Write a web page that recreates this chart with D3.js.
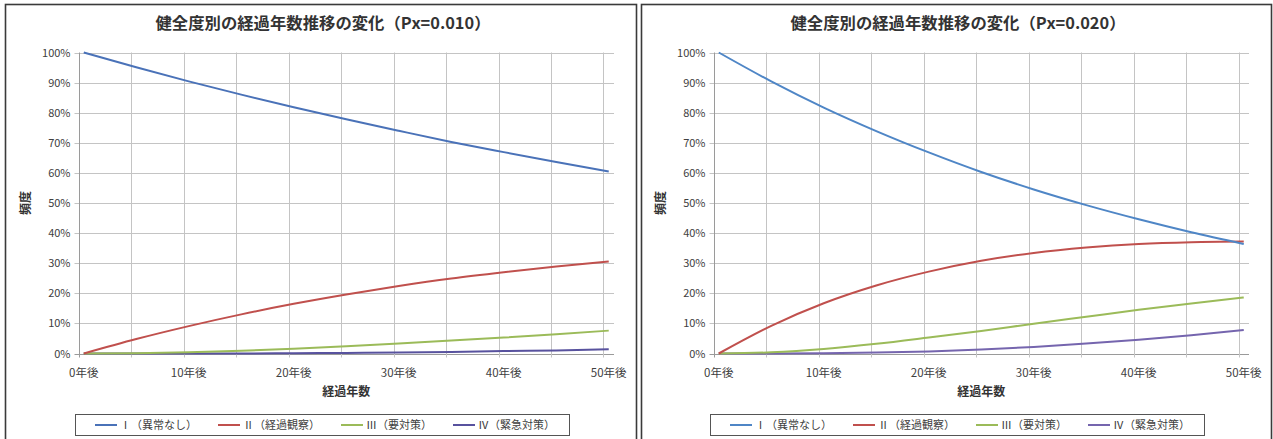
<!DOCTYPE html>
<html>
<head>
<meta charset="utf-8">
<script src="https://cdn.jsdelivr.net/npm/d3@7"></script>
<style>
  html, body { margin: 0; padding: 0; background: #ffffff; }
  svg { display: block; }
  text { font-family: "Noto Sans CJK JP", "Noto Sans", sans-serif; }
</style>
</head>
<body>
<svg id="chart" width="1273" height="439"></svg>
<script>
// ---------------- data ----------------
const years = [0, 5, 10, 15, 20, 25, 30, 35, 40, 45, 50];
const gridYears = [0, 5, 10, 15, 20, 25, 30, 35, 40, 45, 50];
const xTickYears = [0, 10, 20, 30, 40, 50];
const xTickLabels = ["0年後", "10年後", "20年後", "30年後", "40年後", "50年後"];
const yTickValues = [0, 0.1, 0.2, 0.3, 0.4, 0.5, 0.6, 0.7, 0.8, 0.9, 1.0];
const seriesNames = ["Ⅰ（異常なし）", "Ⅱ（経過観察）", "Ⅲ（要対策）", "Ⅳ（緊急対策）"];
const chartTitles = ["健全度別の経過年数推移の変化（Px=0.010）", "健全度別の経過年数推移の変化（Px=0.020）"];
const xAxisTitle = "経過年数";
const yAxisTitle = "頻度";

// Px = 0.010
const px010_I   = [1.000, 0.951, 0.904, 0.860, 0.818, 0.778, 0.740, 0.703, 0.669, 0.636, 0.605];
const px010_II  = [0.000, 0.048, 0.091, 0.130, 0.165, 0.196, 0.224, 0.249, 0.270, 0.289, 0.306];
const px010_III = [0.000, 0.001, 0.004, 0.009, 0.016, 0.024, 0.033, 0.043, 0.053, 0.064, 0.076];
const px010_IV  = [0.000, 0.000, 0.000, 0.000, 0.001, 0.002, 0.003, 0.005, 0.008, 0.010, 0.014];

// Px = 0.020
const px020_I   = [1.000, 0.904, 0.817, 0.739, 0.668, 0.603, 0.545, 0.493, 0.446, 0.403, 0.364];
const px020_II  = [0.000, 0.092, 0.167, 0.226, 0.272, 0.308, 0.334, 0.352, 0.364, 0.370, 0.372];
const px020_III = [0.000, 0.004, 0.015, 0.032, 0.053, 0.075, 0.099, 0.122, 0.145, 0.166, 0.186];
const px020_IV  = [0.000, 0.000, 0.001, 0.003, 0.007, 0.013, 0.022, 0.033, 0.046, 0.061, 0.078];

// ---------------- layout / style ----------------
const panels = [
  { dx: 0,   frame: [5, 636],   title: chartTitles[0],
    series: [px010_I, px010_II, px010_III, px010_IV],
    colors: ["#4a72b8", "#c0504d", "#9bbb59", "#58529e"] },
  { dx: 635, frame: [641, 1271], title: chartTitles[1],
    series: [px020_I, px020_II, px020_III, px020_IV],
    colors: ["#4f86c6", "#c0504d", "#9bbb59", "#7565ae"] }
];

const svg = d3.select("#chart");

panels.forEach(p => {
  const g = svg.append("g");
  const dx = p.dx;

  // frame
  g.append("rect")
    .attr("x", p.frame[0] + 0.5).attr("y", 4.5)
    .attr("width", p.frame[1] - p.frame[0]).attr("height", 460)
    .attr("fill", "#ffffff").attr("stroke", "#3a3a3a").attr("stroke-width", 1.6);

  const x = d3.scaleLinear().domain([-0.5, 50.5]).range([78.5 + dx, 614 + dx]);
  const y = d3.scaleLinear().domain([0, 1]).range([353.5, 52.5]);
  const plotL = x(-0.5), plotR = x(50.5);

  // horizontal gridlines
  g.append("g").selectAll("line").data(yTickValues).join("line")
    .attr("x1", plotL - 4).attr("x2", plotR)
    .attr("y1", d => Math.round(y(d)) + 0.5).attr("y2", d => Math.round(y(d)) + 0.5)
    .attr("stroke", d => d === 0 ? "#9a9a9a" : "#c4c4c4").attr("stroke-width", 1);

  // vertical gridlines (category boundaries)
  g.append("g").selectAll("line").data(gridYears).join("line")
    .attr("x1", d => Math.round(x(d - 0.5)) + 0.5).attr("x2", d => Math.round(x(d - 0.5)) + 0.5)
    .attr("y1", y(1)).attr("y2", y(0) + 4)
    .attr("stroke", d => d === 0 ? "#9a9a9a" : "#c4c4c4").attr("stroke-width", 1);

  // y tick labels
  g.append("g").selectAll("text").data(yTickValues).join("text")
    .attr("x", plotL - 8).attr("y", d => y(d) + 4)
    .attr("text-anchor", "end").attr("font-size", 11).attr("fill", "#404040")
    .text(d => d3.format(".0%")(d));

  // x tick labels
  g.append("g").selectAll("text").data(xTickYears).join("text")
    .attr("x", d => x(d)).attr("y", 377)
    .attr("text-anchor", "middle").attr("font-size", 11.5).attr("fill", "#404040")
    .text((d, i) => xTickLabels[i]);

  // axis titles
  g.append("text")
    .attr("x", (plotL + plotR) / 2).attr("y", 396)
    .attr("text-anchor", "middle").attr("font-size", 12).attr("font-weight", "bold").attr("fill", "#333")
    .text(xAxisTitle);
  g.append("text")
    .attr("transform", `translate(${30 + dx},${203}) rotate(-90)`)
    .attr("text-anchor", "middle").attr("font-size", 12).attr("font-weight", "bold").attr("fill", "#333")
    .text(yAxisTitle);

  // chart title
  g.append("text")
    .attr("x", 323 + dx).attr("y", 29)
    .attr("text-anchor", "middle").attr("font-size", 16).attr("font-weight", "bold").attr("fill", "#333")
    .attr("textLength", 335).attr("lengthAdjust", "spacingAndGlyphs")
    .text(p.title);

  // lines
  const line = d3.line()
    .x((d, i) => x(years[i]))
    .y(d => y(d))
    .curve(d3.curveMonotoneX);
  p.series.slice().reverse().forEach((s, ri) => {
    const idx = p.series.length - 1 - ri;
    g.append("path").datum(s)
      .attr("d", line)
      .attr("fill", "none")
      .attr("stroke", p.colors[idx])
      .attr("stroke-width", 2)
      .attr("stroke-linejoin", "round");
  });

  // legend
  const lg = g.append("g");
  const items = lg.selectAll("g").data(seriesNames).join("g");
  items.append("line").attr("x1", 0).attr("x2", 22).attr("y1", 0).attr("y2", 0)
    .attr("stroke", (d, i) => p.colors[i]).attr("stroke-width", 2);
  items.append("text").attr("x", 25).attr("y", 4)
    .attr("font-size", 11).attr("fill", "#404040").text(d => d);
  let cx = 0;
  items.each(function () {
    const w = d3.select(this).select("text").node().getComputedTextLength();
    d3.select(this).attr("transform", `translate(${cx},0)`);
    cx += 25 + w + 21;
  });
  const totalW = cx - 21;
  const boxW = totalW + 34;
  const boxL = 322 + dx - boxW / 2;
  lg.attr("transform", `translate(${boxL + 20},425)`);
  lg.insert("rect", ":first-child")
    .attr("x", -20 + 0.5).attr("y", -10.5)
    .attr("width", boxW).attr("height", 21)
    .attr("fill", "#ffffff").attr("stroke", "#555").attr("stroke-width", 1);
});
</script>
</body>
</html>
